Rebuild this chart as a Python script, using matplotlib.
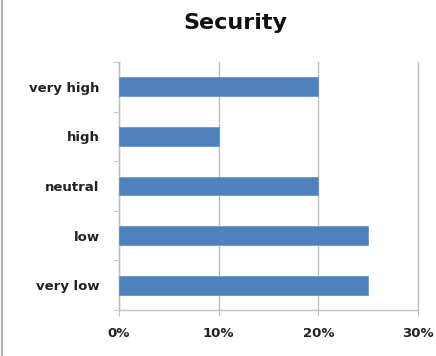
import matplotlib.pyplot as plt
from matplotlib.ticker import FuncFormatter

categories = ['very low', 'low', 'neutral', 'high', 'very high']
shares = [25, 25, 20, 10, 20]
x_ticks = [0, 10, 20, 30]

grid_col = '#bfbfbf'

fig = plt.figure(figsize=(4.36, 3.56), dpi=100)
ax = fig.add_axes([0.273, 0.129, 0.686, 0.697])

pos = list(range(len(categories)))
ax.barh(pos, shares, height=0.38, color='#4f81bd', edgecolor='#6c96c8', linewidth=0.6, zorder=3)

ax.set_xlim(0, 30)
ax.set_ylim(-0.5, len(categories) - 0.5)
ax.set_xticks(x_ticks)
ax.xaxis.set_major_formatter(FuncFormatter(lambda v, p: '%d%%' % v))
ax.set_yticks(pos)
ax.set_yticklabels(categories)
ax.set_yticks([p - 0.5 for p in pos] + [len(pos) - 0.5], minor=True)

ax.grid(axis='x', color=grid_col, linewidth=1, zorder=0)
for gl in ax.get_xgridlines():
    gl.set_clip_on(False)
for s in ['top', 'right']:
    ax.spines[s].set_visible(False)
for s in ['left', 'bottom']:
    ax.spines[s].set_color(grid_col)
    ax.spines[s].set_linewidth(1)

ax.tick_params(axis='y', which='major', length=0, pad=14, labelsize=9.5)
ax.tick_params(axis='y', which='minor', length=4, color=grid_col, direction='out')
ax.tick_params(axis='x', length=4, color=grid_col, pad=8, labelsize=9.5)
for lbl in ax.get_xticklabels() + ax.get_yticklabels():
    lbl.set_fontweight('bold')
    lbl.set_color('#222222')

fig.text(0.54, 0.935, 'Security', ha='center', va='center', fontsize=16, fontweight='bold', color='#111111')

# thin grey frame line on the left edge of the picture
fig.add_artist(plt.Line2D([0.004, 0.004], [0, 1], color='#b0b0b0', linewidth=1.5))

fig.savefig('out.png', dpi=100)
